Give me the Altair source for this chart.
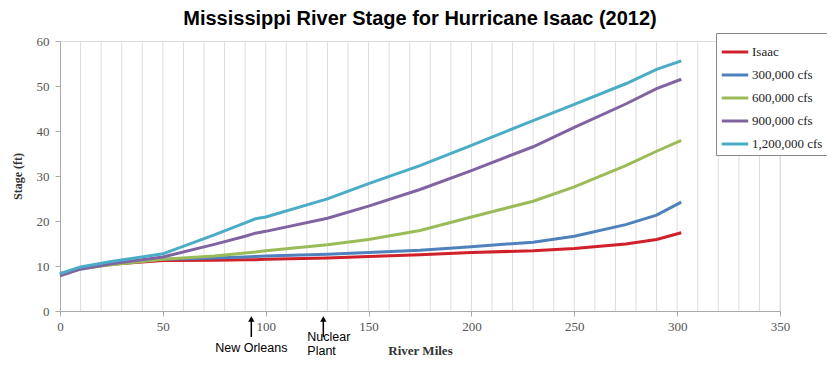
import altair as alt
import pandas as pd

miles = [0, 10, 25, 50, 75, 90, 95, 100, 130, 150, 175, 200, 230, 250, 275, 290, 302]
series_names = ["Isaac", "300,000 cfs", "600,000 cfs", "900,000 cfs", "1,200,000 cfs"]
isaac = [8.3, 9.5, 10.4, 11.2, 11.3, 11.4, 11.4, 11.5, 11.8, 12.1, 12.5, 13.0, 13.4, 13.9, 14.9, 15.9, 17.4]
cfs300 = [8.2, 9.5, 10.5, 11.5, 11.8, 12.0, 12.1, 12.2, 12.6, 13.0, 13.5, 14.3, 15.3, 16.6, 19.2, 21.3, 24.2]
cfs600 = [8.0, 9.4, 10.3, 11.5, 12.2, 12.9, 13.1, 13.4, 14.7, 15.9, 17.9, 20.9, 24.4, 27.6, 32.3, 35.5, 37.9]
cfs900 = [7.8, 9.3, 10.5, 12.0, 14.8, 16.6, 17.3, 17.7, 20.6, 23.3, 27.0, 31.2, 36.5, 40.8, 46.0, 49.4, 51.5]
cfs1200 = [8.3, 9.8, 11.0, 12.7, 16.9, 19.6, 20.5, 20.9, 24.9, 28.3, 32.3, 36.8, 42.3, 45.9, 50.5, 53.7, 55.6]
colors = ["#d0202a", "#4f81bd", "#9bbb59", "#8064a2", "#4bacc6"]

x_ticks = [0, 50, 100, 150, 200, 250, 300, 350]
x_grid = list(range(10, 351, 10))
y_ticks = [0, 10, 20, 30, 40, 50, 60]

annot_names = ["New Orleans", "Nuclear Plant"]
annot_miles = [93, 128]

rows = []
for name, vals in zip(series_names, [isaac, cfs300, cfs600, cfs900, cfs1200]):
    for m, v in zip(miles, vals):
        rows.append({"mile": m, "stage": v, "series": name})
df = pd.DataFrame(rows)

x_scale = alt.Scale(domain=[0, 350], nice=False)
y_scale = alt.Scale(domain=[0, 60], nice=False)

x_axis = alt.Axis(
    values=x_ticks, grid=False,
    labelOverlap=False, labelBound=False, labelFlush=False,
    tickSize=5, tickColor="#aaaaaa", domainColor="#aaaaaa",
    labelFont="Liberation Serif", labelFontSize=13,
    labelColor="#555555", labelPadding=4, title="River Miles",
    titleFont="Liberation Serif", titleFontSize=13, titleFontWeight="bold",
    titleColor="#333333", titlePadding=11,
)
y_axis = alt.Axis(
    values=y_ticks, tickSize=5, tickColor="#aaaaaa",
    labelOverlap=False,
    domainColor="#aaaaaa", gridColor="#dddddd", labelFont="Liberation Serif",
    labelFontSize=13, labelColor="#555555", labelPadding=6, title="Stage (ft)",
    titleFont="Liberation Serif", titleFontSize=12, titleFontWeight="bold",
    titleColor="#333333", titlePadding=12,
)

gdf = pd.DataFrame({"g": x_grid})
grid = alt.Chart(gdf).mark_rule(color="#dddddd", strokeWidth=1).encode(
    x=alt.X("g:Q", scale=x_scale, axis=x_axis),
    y=alt.datum(0, scale=y_scale, axis=y_axis),
    y2=alt.datum(60),
)

lines = alt.Chart(df).mark_line(strokeWidth=3).encode(
    x=alt.X("mile:Q", scale=x_scale, axis=x_axis),
    y=alt.Y("stage:Q", scale=y_scale, axis=y_axis),
    color=alt.Color(
        "series:N",
        scale=alt.Scale(domain=series_names, range=colors),
        legend=alt.Legend(
            orient="none", legendX=656, legendY=-8, title=None,
            symbolType="stroke", symbolStrokeWidth=3, symbolSize=700,
            labelFont="Liberation Serif", labelFontSize=13, labelColor="#222222",
            fillColor="white", strokeColor="#888888", padding=4,
            labelOffset=2, rowPadding=1,
        ),
    ),
    order=alt.Order("mile:Q"),
    detail="series:N",
)

adf = pd.DataFrame({"mile": annot_miles, "name": annot_names})

shafts = alt.Chart(adf).mark_rule(color="black", strokeWidth=1.5).encode(
    x=alt.X("mile:Q", scale=x_scale),
    y=alt.value(279), y2=alt.value(296),
)
heads = alt.Chart(adf).mark_point(shape="triangle-up", filled=True, color="black", size=40, opacity=1).encode(
    x=alt.X("mile:Q", scale=x_scale),
    y=alt.value(278),
)
text_no = alt.Chart(adf).transform_filter("datum.name === 'New Orleans'").mark_text(
    font="Liberation Sans", fontSize=12.5, align="center", baseline="middle", color="black"
).encode(
    x=alt.X("mile:Q", scale=x_scale), y=alt.value(307), text="name:N"
)
text_np = alt.Chart(adf).transform_filter("datum.name === 'Nuclear Plant'").transform_calculate(
    lbl="split(datum.name, ' ')"
).mark_text(
    font="Liberation Sans", fontSize=12.5, align="left", baseline="middle", color="black",
    dx=-16, lineHeight=14
).encode(
    x=alt.X("mile:Q", scale=x_scale), y=alt.value(296), text="lbl:N"
)

chart = alt.layer(grid, lines, shafts, heads, text_no, text_np).properties(
    width=720, height=270,
    title=alt.TitleParams(
        "Mississippi River Stage for Hurricane Isaac (2012)",
        font="Liberation Sans", fontSize=20, fontWeight="bold", color="black",
        anchor="middle", offset=4,
    ),
    autosize=alt.AutoSizeParams(type="none"),
    padding={"left": 52, "top": 33, "right": 47, "bottom": 46},
).configure_view(stroke=None).configure(background="white")

chart.save("out.html", embed_options={"renderer": "svg", "actions": False})
